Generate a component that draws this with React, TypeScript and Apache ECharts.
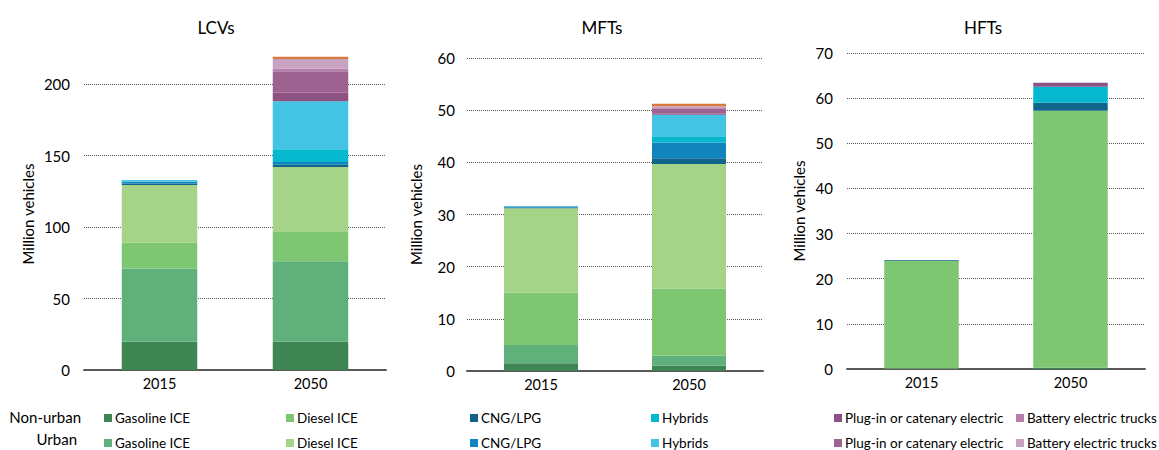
import React, { useEffect, useRef } from "react";
import * as echarts from "echarts";

const categories = ["2015", "2050"];
const chartTitles = ["LCVs", "MFTs", "HFTs"];
const yMax = [200, 60, 70];
const yInterval = [50, 10, 10];

const techNames = ["Gasoline ICE", "Diesel ICE", "CNG/LPG", "Hybrids", "Plug-in or catenary electric", "Battery electric trucks"];

// values per chart (LCVs, MFTs, HFTs), each [2015, 2050]
const nonUrbanGasoline = [[20, 20], [1.5, 1.0], [0.1, 0.3]];
const urbanGasoline = [[51, 56], [3.5, 1.9], [0, 0]];
const nonUrbanDiesel = [[18, 21], [10, 12.9], [23.8, 56.9]];
const urbanDiesel = [[40.4, 45], [16.2, 23.9], [0, 0]];
const nonUrbanCNG = [[1, 1.5], [0.15, 1.1], [0.2, 1.8]];
const urbanCNG = [[1, 2], [0.2, 3.0], [0, 0]];
const nonUrbanHybrids = [[0.5, 8.8], [0.05, 1.2], [0, 3.5]];
const urbanHybrids = [[1, 33.6], [0.05, 4.1], [0, 0]];
const nonUrbanPlugin = [[0, 5.9], [0, 0.2], [0, 0.9]];
const urbanPlugin = [[0, 15.2], [0, 1.0], [0, 0]];
const nonUrbanBattery = [[0, 1.9], [0, 0.1], [0, 0]];
const urbanBattery = [[0, 6.5], [0, 0.35], [0, 0]];
const otherTech = [[0, 1.6], [0, 0.5], [0, 0]];

const stackDefs = [
  { name: "Non-urban Gasoline ICE", color: "#3e8553", data: nonUrbanGasoline },
  { name: "Urban Gasoline ICE", color: "#5fb07a", data: urbanGasoline },
  { name: "Non-urban Diesel ICE", color: "#7fc673", data: nonUrbanDiesel },
  { name: "Urban Diesel ICE", color: "#a5d388", data: urbanDiesel },
  { name: "Non-urban CNG/LPG", color: "#11658a", data: nonUrbanCNG },
  { name: "Urban CNG/LPG", color: "#1184bd", data: urbanCNG },
  { name: "Non-urban Hybrids", color: "#05b8d0", data: nonUrbanHybrids },
  { name: "Urban Hybrids", color: "#44c4e5", data: urbanHybrids },
  { name: "Non-urban Plug-in or catenary electric", color: "#8d5284", data: nonUrbanPlugin },
  { name: "Urban Plug-in or catenary electric", color: "#9e6291", data: urbanPlugin },
  { name: "Non-urban Battery electric trucks", color: "#b67fac", data: nonUrbanBattery },
  { name: "Urban Battery electric trucks", color: "#c7a2c1", data: urbanBattery },
  { name: "Other", color: "#d97b40", data: otherTech },
];

const FONT = "Lato, 'Open Sans', sans-serif";

const grids = [
  { left: 84, top: 84, width: 302, height: 286 },
  { left: 467, top: 58, width: 296, height: 313 },
  { left: 847, top: 53, width: 298, height: 316 },
];
const titleX = [211, 597, 978];
const labelMargin = [14, 12, 14];
const nameGaps = [49, 44, 41];
const nameShift = [26, 0, 0];

const legendX = [104, 286, 470, 651, 834, 1016];
const legendRowsY = [411, 436];

export default function App() {
  const ref = useRef<HTMLDivElement>(null);
  useEffect(() => {
    if (!ref.current) return;
    const chart = echarts.init(ref.current, null, { renderer: "svg" });
    const series: any[] = [];
    for (let g = 0; g < 3; g++) {
      stackDefs.forEach((s) => {
        series.push({
          type: "bar",
          name: s.name,
          xAxisIndex: g,
          yAxisIndex: g,
          stack: "total" + g,
          barWidth: "50%",
          clip: false,
          itemStyle: { color: s.color },
          data: s.data[g].map((v) => (v === 0 ? null : v)),
        });
      });
    }
    const legends: any[] = [];
    ["Non-urban", "Urban"].forEach((prefix, r) => {
      techNames.forEach((t, c) => {
        legends.push({
          left: legendX[c],
          top: legendRowsY[r],
          data: [prefix + " " + t],
          icon: "rect",
          itemWidth: 8,
          itemHeight: 8,
          padding: 0,
          selectedMode: false,
          formatter: () => t,
          textStyle: { fontFamily: FONT, fontSize: 13.5, color: "#000", padding: [0, 0, 0, -2] },
        });
      });
    });
    chart.setOption({
      animation: false,
      title: chartTitles.map((t, i) => ({
        text: t,
        left: titleX[i],
        top: 14,
        textAlign: "center",
        textStyle: { fontFamily: FONT, fontSize: 17, fontWeight: "normal", color: "#000" },
      })),
      grid: grids,
      legend: legends,
      graphic: [
        { type: "text", right: 1159 - 81, top: 409, style: { text: "Non-urban", font: `15px ${FONT}`, fill: "#000" } },
        { type: "text", right: 1159 - 77, top: 431, style: { text: "Urban", font: `15px ${FONT}`, fill: "#000" } },
      ],
      xAxis: grids.map((_, i) => ({
        type: "category",
        gridIndex: i,
        data: categories,
        axisTick: { show: false },
        axisLine: { lineStyle: { color: "#595959", width: 2 } },
        axisLabel: { fontFamily: FONT, fontSize: 14.5, color: "#000", margin: 6 },
      })),
      yAxis: grids.map((_, i) => ({
        type: "value",
        gridIndex: i,
        min: 0,
        max: yMax[i],
        interval: yInterval[i],
        name: "Million vehicles",
        nameLocation: "middle",
        nameGap: nameGaps[i],
        nameTextStyle: { fontFamily: FONT, fontSize: 15, color: "#000", padding: [0, 0, 0, nameShift[i]] },
        axisLine: { show: false },
        axisTick: { show: false },
        axisLabel: { fontFamily: FONT, fontSize: 15, color: "#000", margin: labelMargin[i] },
        splitLine: { lineStyle: { color: "#555", type: "dotted", width: 1 } },
      })),
      series,
    });
    return () => chart.dispose();
  }, []);
  return (
    <div
      ref={ref}
      style={{ position: "absolute", left: 0, top: 0, width: 1159, height: 450, background: "#fff" }}
    />
  );
}
